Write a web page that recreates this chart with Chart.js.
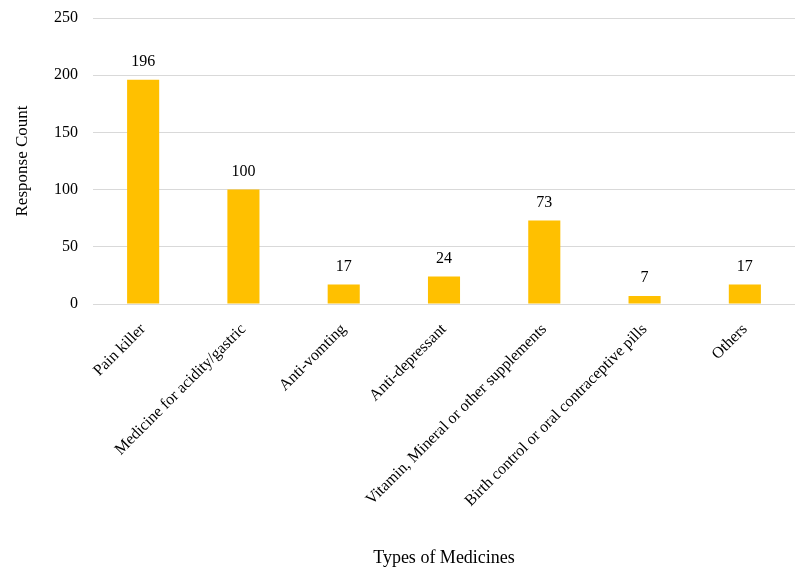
<!DOCTYPE html>
<html>
<head>
<meta charset="utf-8">
<script src="https://cdn.jsdelivr.net/npm/chart.js@4/dist/chart.umd.min.js"></script>
<style>
html,body{margin:0;padding:0;background:#fff;}
#wrap{width:799px;height:567px;position:relative;}
</style>
</head>
<body>
<div id="wrap"><canvas id="c" width="799" height="567"></canvas></div>
<script>
const categories = ["Pain killer","Medicine for acidity/gastric","Anti-vomting","Anti-depressant","Vitamin, Mineral or other supplements","Birth control or oral contraceptive pills","Others"];
const responseCounts = [196,100,17,24,73,7,17];
const yTicks = [0,50,100,150,200,250];

const FONT = "'Liberation Serif','Times New Roman',serif";

const valueLabels = {
  id:'valueLabels',
  afterDatasetsDraw(chart){
    const ctx = chart.ctx;
    const meta = chart.getDatasetMeta(0);
    ctx.save();
    ctx.font = "16px " + FONT;
    ctx.fillStyle = "#000";
    ctx.textAlign = "center";
    ctx.textBaseline = "middle";
    meta.data.forEach((bar,i)=>{
      ctx.fillText(String(responseCounts[i]), bar.x, bar.y - 18);
    });
    ctx.restore();
  }
};

new Chart(document.getElementById('c'),{
  type:'bar',
  data:{labels:categories,datasets:[{data:responseCounts,backgroundColor:'#FFC000',barPercentage:0.32,categoryPercentage:1}]},
  options:{
    responsive:false,animation:false,
    layout:{padding:{top:18,right:4,left:0,bottom:0}},
    plugins:{legend:{display:false},tooltip:{enabled:false}},
    scales:{
      x:{
        grid:{display:false},
        border:{display:false},
        ticks:{minRotation:45,maxRotation:45,color:'#000',font:{family:FONT,size:16},padding:8},
        title:{display:true,text:'Types of Medicines',color:'#000',font:{family:FONT,size:18,lineHeight:1.0},padding:{top:4,bottom:0}},
        afterFit(s){ s.height = 263; s.paddingTop = 0; s.paddingBottom = 0; }
      },
      y:{
        min:0,max:250,
        afterBuildTicks(s){ s.ticks = yTicks.map(v=>({value:v})); },
        grid:{color:'#d9d9d9',drawTicks:false,lineWidth:1},
        border:{display:false},
        ticks:{color:'#000',font:{family:FONT,size:16},padding:15},
        title:{display:true,text:'Response Count',color:'#000',font:{family:FONT,size:17},padding:{top:12,bottom:4}},
        afterFit(s){ s.width = 93; s.paddingTop = 0; s.paddingBottom = 0; }
      }
    }
  },
  plugins:[valueLabels]
});
</script>
</body>
</html>
